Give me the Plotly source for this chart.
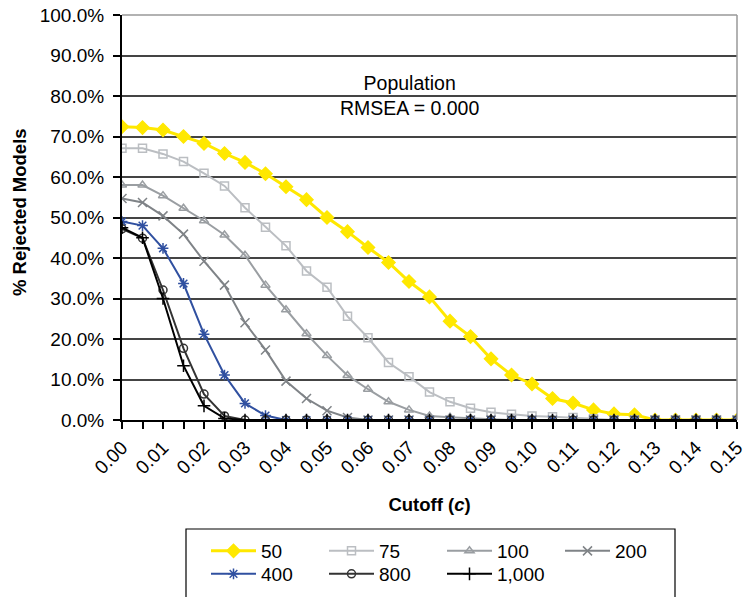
import plotly.graph_objects as go

cutoffs = [round(i * 0.005, 3) for i in range(31)]

n50 = [72.4, 72.2, 71.6, 70.0, 68.3, 65.8, 63.6, 60.8, 57.6, 54.4, 50.0, 46.5, 42.6, 38.9, 34.2, 30.4,
       24.4, 20.6, 15.1, 11.1, 8.9, 5.3, 4.2, 2.5, 1.5, 1.3, 0, 0, 0, 0, 0]
n75 = [67.1, 67.1, 65.7, 63.8, 60.9, 57.8, 52.4, 47.6, 43.0, 36.8, 32.8, 25.6, 20.3, 14.2, 10.7, 6.9,
       4.5, 2.9, 1.9, 1.4, 1.0, 0.8, 0.6, 0.3, 0, 0, 0, 0, 0, 0, 0]
n100 = [58.0, 58.0, 55.4, 52.3, 49.2, 45.7, 40.7, 33.3, 27.2, 21.3, 15.9, 11.0, 7.6, 4.5, 2.5, 1.0,
        0.7, 0.4, 0.2, 0, 0, 0, 0, 0, 0, 0, 0, 0, 0, 0, 0]
n200 = [54.7, 53.7, 50.4, 45.9, 39.2, 33.3, 24.0, 17.3, 9.6, 5.3, 2.3, 0.6, 0, 0, 0, 0,
        0, 0, 0, 0, 0, 0, 0, 0, 0, 0, 0, 0, 0, 0, 0]
n400 = [49.0, 48.0, 42.4, 33.7, 21.2, 11.1, 4.1, 1.1, 0, 0, 0, 0, 0, 0, 0, 0,
        0, 0, 0, 0, 0, 0, 0, 0, 0, 0, 0, 0, 0, 0, 0]
n800 = [47.2, 44.9, 32.1, 17.7, 6.4, 1.0, 0, 0, 0, 0, 0, 0, 0, 0, 0, 0,
        0, 0, 0, 0, 0, 0, 0, 0, 0, 0, 0, 0, 0, 0, 0]
n1000 = [47.5, 45.0, 30.0, 13.4, 3.5, 0.4, 0, 0, 0, 0, 0, 0, 0, 0, 0, 0,
         0, 0, 0, 0, 0, 0, 0, 0, 0, 0, 0, 0, 0, 0, 0]

x_tick_labels = [f"{i * 0.01:.2f}" for i in range(16)]

series = [
    ("50", n50, "#FFE800", "diamond", 10, 3, "legend"),
    ("75", n75, "#BBBEC2", "square-open", 8, 2, "legend"),
    ("100", n100, "#9A9EA2", "triangle-up-open", 8, 2, "legend"),
    ("200", n200, "#7F8387", "x-thin-open", 9, 2, "legend"),
    ("400", n400, "#3050A0", "asterisk-open", 9, 2, "legend2"),
    ("800", n800, "#333333", "circle-open", 8, 2, "legend2"),
    ("1,000", n1000, "#000000", "cross-thin-open", 9, 2, "legend2"),
]

fig = go.Figure()
for name, vals, color, sym, size, width, leg in series:
    fig.add_trace(go.Scatter(
        x=cutoffs, y=vals, name=name, mode="lines+markers", legend=leg,
        line=dict(color=color, width=width),
        marker=dict(symbol=sym, size=size, color=color, line=dict(color=color, width=1.5)),
    ))

font_family = "Liberation Sans, Arial, sans-serif"

W, H = 746, 597
ML, MR, MT, MB = 122, 9, 15, 177
PW, PH = W - ML - MR, H - MT - MB


def px_x(page_x):
    return (page_x - ML) / PW


def px_y(page_y):
    return (H - MB - page_y) / PH


leg_common = dict(
    orientation="h", xanchor="left", yanchor="top",
    borderwidth=0, bgcolor="rgba(0,0,0,0)",
    font=dict(size=19), entrywidth=58, entrywidthmode="pixels",
    itemwidth=45, traceorder="normal",
)

fig.update_layout(
    width=W, height=H,
    margin=dict(l=ML, r=MR, t=MT, b=MB, autoexpand=False),
    paper_bgcolor="white", plot_bgcolor="white",
    font=dict(family=font_family, size=19, color="black"),
    showlegend=True,
    legend=dict(x=px_x(206), y=px_y(532), **leg_common),
    legend2=dict(x=px_x(206), y=px_y(555), **leg_common),
    annotations=[
        dict(text="Population<br>RMSEA = 0.000", x=0.07, y=80.1, xref="x", yref="y",
             showarrow=False, font=dict(size=19.5), align="center"),
        dict(text="<b>% Rejected Models</b>", xref="paper", yref="paper",
             x=px_x(20), y=px_y(212), xanchor="center", yanchor="middle",
             textangle=-90, showarrow=False, font=dict(size=18.5)),
    ],
    shapes=[
        dict(type="line", xref="paper", yref="paper", x0=1, x1=1, y0=0, y1=1,
             line=dict(color="#999999", width=1.5)),
        dict(type="line", xref="paper", yref="paper", x0=0, x1=1, y0=1, y1=1,
             line=dict(color="#999999", width=1.5)),
        dict(type="rect", xref="paper", yref="paper",
             x0=px_x(186), x1=px_x(675), y0=px_y(529), y1=px_y(597.5),
             line=dict(color="black", width=1.2), fillcolor="rgba(0,0,0,0)", layer="above"),
    ],
)

fig.update_xaxes(
    range=[0, 0.15], tickvals=[round(i * 0.01, 2) for i in range(16)], ticktext=x_tick_labels,
    tickangle=-45, ticks="outside", ticklen=7, tickcolor="black", tickwidth=1.5,
    ticklabeloverflow="allow",
    minor=dict(dtick=0.005, tick0=0, ticks="outside", ticklen=7, tickcolor="black", tickwidth=1.5, showgrid=False),
    showline=True, linecolor="black", linewidth=2, showgrid=False, zeroline=False,
    automargin=False,
    title=dict(text="<b>Cutoff (<i>c</i>)</b>", font=dict(size=18.5), standoff=21),
    tickfont=dict(size=19),
)
fig.update_yaxes(
    range=[0, 100], dtick=10, tickformat=".1f", ticksuffix="%",
    ticks="outside", ticklen=7, tickcolor="black", tickwidth=1.5, ticklabelstandoff=5,
    ticklabeloverflow="allow",
    showline=True, linecolor="black", linewidth=2,
    showgrid=True, gridcolor="#444444", gridwidth=1.5, zeroline=False,
    automargin=False,
    tickfont=dict(size=19),
)

fig.write_html("out.html", config={"displayModeBar": False},
               post_script="document.body.style.margin='0';")
